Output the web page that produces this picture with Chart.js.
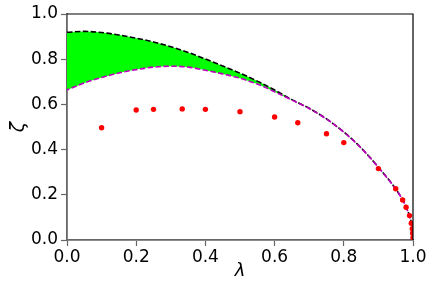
<!DOCTYPE html>
<html>
<head>
<meta charset="utf-8">
<script src="https://cdn.jsdelivr.net/npm/chart.js@4/dist/chart.umd.min.js"></script>
<style>
  html, body { margin: 0; padding: 0; background: #fff; }
  #box { width: 436px; height: 295px; }
</style>
</head>
<body>
<div id="box"><canvas id="grafico"></canvas></div>
<script>
// lambda positions of the two bound curves
const lambdaCurva = [0, 0.05, 0.1, 0.15, 0.2, 0.25, 0.3, 0.35, 0.4, 0.45, 0.5, 0.55, 0.6, 0.65,
  0.7, 0.75, 0.8, 0.85, 0.9, 0.95, 0.97, 0.98, 0.99, 0.995, 1.0];
// upper bound (black dashed)
const zetaSuperior = [0.919, 0.923, 0.918, 0.907, 0.893, 0.876, 0.855, 0.830, 0.801, 0.770, 0.738,
  0.703, 0.664, 0.621, 0.583, 0.536, 0.478, 0.408, 0.322, 0.226, 0.178, 0.146, 0.106, 0.075, 0.0];
// lower bound (magenta dashed)
const zetaInferior = [0.664, 0.695, 0.719, 0.739, 0.754, 0.765, 0.769, 0.765, 0.751, 0.735, 0.716,
  0.690, 0.656, 0.619, 0.582, 0.535, 0.477, 0.407, 0.321, 0.225, 0.177, 0.145, 0.105, 0.074, 0.0];
// red points
const lambdaPuntos = [0.1, 0.2, 0.25, 0.333, 0.4, 0.5, 0.6, 0.667, 0.75, 0.8, 0.9, 0.95, 0.97,
  0.98, 0.99, 0.995, 0.998, 0.999, 1.0];
const zetaPuntos = [0.497, 0.575, 0.578, 0.580, 0.578, 0.568, 0.544, 0.519, 0.470, 0.431, 0.316,
  0.227, 0.177, 0.145, 0.108, 0.074, 0.05, 0.03, 0.01];
const ticksEje = [0, 0.2, 0.4, 0.6, 0.8, 1.0];

const aPuntos = (xs, ys) => xs.map((x, i) => ({ x: x, y: ys[i] }));

// top and right spines in black
const marcoPlugin = {
  id: "marco",
  afterDraw(chart) {
    const { ctx, chartArea: a } = chart;
    ctx.save();
    ctx.strokeStyle = "#000";
    ctx.lineWidth = 1.2;
    ctx.beginPath();
    ctx.moveTo(a.left, a.top);
    ctx.lineTo(a.right, a.top);
    ctx.lineTo(a.right, a.bottom);
    ctx.stroke();
    ctx.restore();
  },
};

const fuente = { family: "DejaVu Sans", size: 17 };

new Chart(document.getElementById("grafico").getContext("2d"), {
  data: {
    datasets: [
      {
        type: "line",
        data: aPuntos(lambdaCurva, zetaSuperior),
        borderColor: "#000",
        borderWidth: 1.6,
        borderDash: [5.5, 2.4],
        backgroundColor: "#00ff00",
        fill: "+1",
        pointRadius: 0,
        cubicInterpolationMode: "monotone",
        order: 3,
      },
      {
        type: "line",
        data: aPuntos(lambdaCurva, zetaInferior),
        borderColor: "#bf00bf",
        borderWidth: 1.6,
        borderDash: [5.5, 2.4],
        borderDashOffset: 3,
        fill: false,
        pointRadius: 0,
        cubicInterpolationMode: "monotone",
        order: 2,
      },
      {
        type: "scatter",
        data: aPuntos(lambdaPuntos, zetaPuntos),
        backgroundColor: "#ff0000",
        borderWidth: 0,
        pointRadius: 2.7,
        order: 1,
      },
    ],
  },
  options: {
    responsive: true,
    maintainAspectRatio: false,
    animation: false,
    layout: { padding: { left: 8, top: 14, right: 23, bottom: 13 } },
    plugins: { legend: { display: false }, tooltip: { enabled: false } },
    scales: {
      x: {
        type: "linear",
        min: 0,
        max: 1,
        afterBuildTicks: (s) => { s.ticks = ticksEje.map((v) => ({ value: v })); },
        afterFit: (s) => { s.height = 42; },
        ticks: { font: fuente, color: "#000", padding: 1, maxRotation: 0,
          callback: (v) => v.toFixed(1) },
        grid: { drawOnChartArea: false, drawTicks: true, tickLength: 6, color: "#666", tickWidth: 1.2 },
        border: { display: true, color: "#666", width: 1.8 },
        title: { display: true, text: "λ", color: "#000", padding: { top: 0, bottom: 0 },
          font: { family: "DejaVu Sans", size: 18, style: "italic" } },
      },
      y: {
        type: "linear",
        min: 0,
        max: 1,
        afterBuildTicks: (s) => { s.ticks = ticksEje.map((v) => ({ value: v })); },
        afterFit: (s) => { s.width = 59; },
        ticks: { font: fuente, color: "#000", padding: 3,
          callback: (v) => v.toFixed(1) },
        grid: { drawOnChartArea: false, drawTicks: true, tickLength: 6, color: "#666", tickWidth: 1.2 },
        border: { display: true, color: "#666", width: 1.8 },
        title: { display: true, text: "ζ", color: "#000", padding: { top: 0, bottom: 0 },
          font: { family: "DejaVu Sans", size: 19, style: "italic" } },
      },
    },
  },
  plugins: [marcoPlugin],
});
</script>
</body>
</html>
